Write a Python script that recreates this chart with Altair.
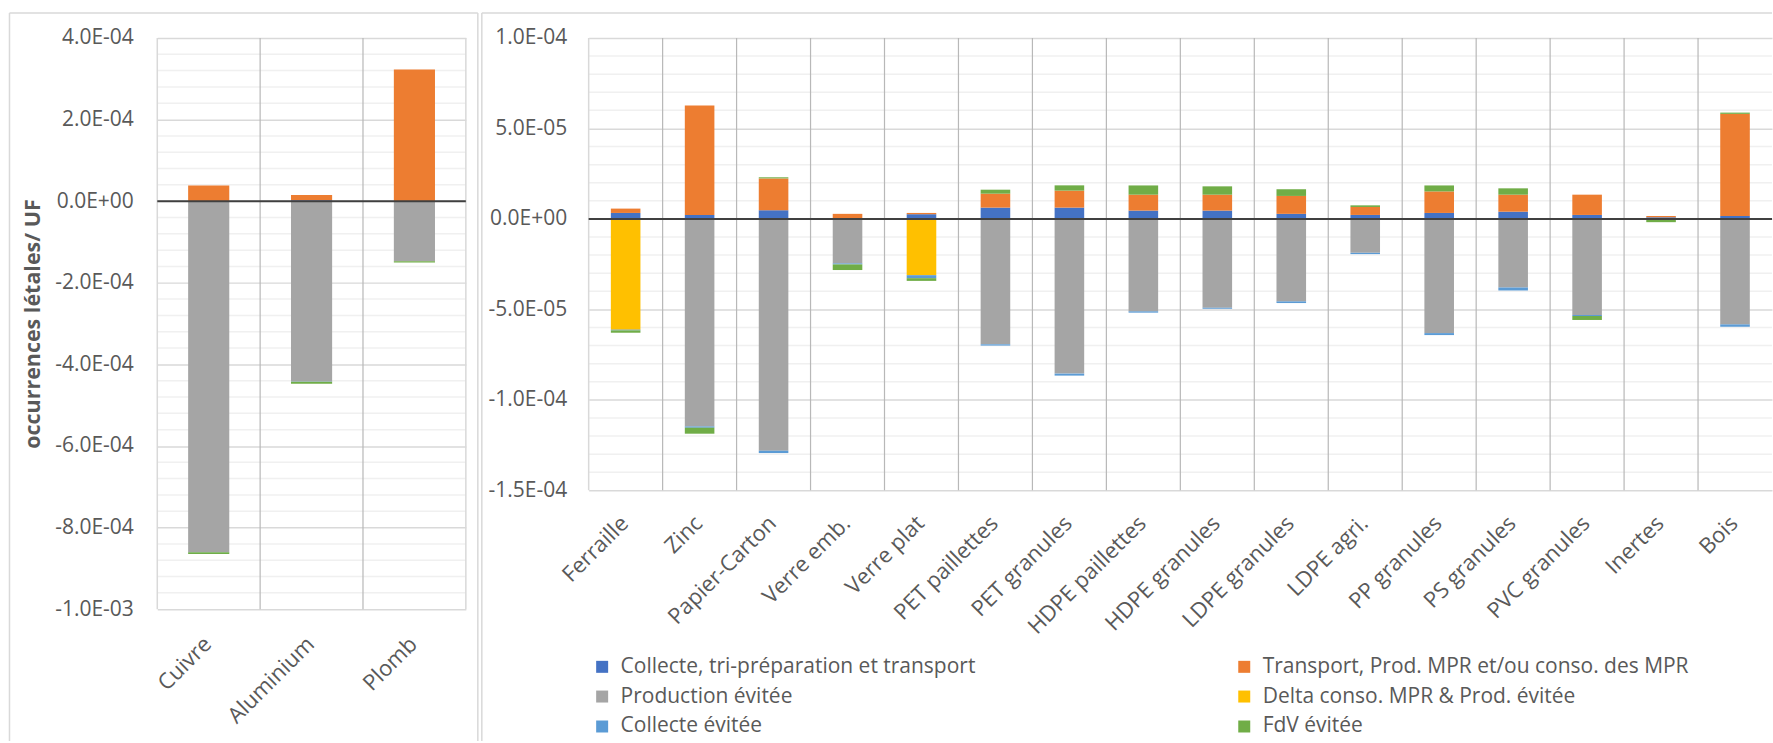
import altair as alt
import pandas as pd

FONT = "Open Sans"
TEXT = "#595959"

SERIES = [
    "Collecte, tri-préparation et transport",
    "Transport, Prod. MPR et/ou conso. des MPR",
    "Production évitée",
    "Delta conso. MPR & Prod. évitée",
    "Collecte évitée",
    "FdV évitée",
]
COLORS = ["#4472C4", "#ED7D31", "#A5A5A5", "#FFC000", "#5B9BD5", "#70AD47"]

# Metals panel (occurrences létales / UF)
metals = ["Cuivre", "Aluminium", "Plomb"]
metals_collecte = [0.5e-6, 2.0e-6, 0.5e-6]
metals_transport = [38e-6, 13e-6, 322e-6]
metals_production = [-860e-6, -442e-6, -147e-6]
metals_delta = [0.0, 0.0, 0.0]
metals_collecte_evitee = [-0.5e-6, -0.5e-6, -0.3e-6]
metals_fdv = [-4e-6, -5e-6, -3e-6]

# Other materials panel
materials = ["Ferraille", "Zinc", "Papier-Carton", "Verre emb.", "Verre plat",
             "PET paillettes", "PET granules", "HDPE paillettes", "HDPE granules",
             "LDPE granules", "LDPE agri.", "PP granules", "PS granules",
             "PVC granules", "Inertes", "Bois"]
mat_collecte = [3.3e-6, 2.2e-6, 4.8e-6, 0.3e-6, 2.6e-6, 6.25e-6, 6.25e-6, 4.6e-6,
                4.6e-6, 2.8e-6, 2.2e-6, 3.3e-6, 4.0e-6, 2.2e-6, 0.9e-6, 1.65e-6]
mat_transport = [2.4e-6, 60.5e-6, 17.6e-6, 2.5e-6, 0.7e-6, 7.7e-6, 9.4e-6, 8.8e-6,
                 8.8e-6, 9.9e-6, 4.4e-6, 11.9e-6, 9.4e-6, 11.2e-6, 0.7e-6, 56.4e-6]
mat_production = [0.0, -114.7e-6, -128.1e-6, -24.6e-6, 0.0, -69.3e-6, -85.5e-6,
                  -51.1e-6, -49.1e-6, -45.6e-6, -18.75e-6, -63.1e-6, -37.9e-6,
                  -53.1e-6, -0.5e-6, -58.3e-6]
mat_delta = [-61.2e-6, 0.0, 0.0, 0.0, -31.1e-6, 0.0, 0.0, 0.0,
             0.0, 0.0, 0.0, 0.0, 0.0, 0.0, 0.0, 0.0]
mat_collecte_evitee = [-0.4e-6, -0.7e-6, -1.3e-6, -0.55e-6, -1.65e-6, -0.7e-6, -1.1e-6,
                       -0.7e-6, -0.55e-6, -0.9e-6, -0.7e-6, -1.1e-6, -1.65e-6,
                       -0.55e-6, 0.0, -1.3e-6]
mat_fdv = [-1.3e-6, -3.3e-6, 0.6e-6, -3.1e-6, -1.5e-6, 2.2e-6, 2.9e-6, 5.1e-6,
           4.6e-6, 3.7e-6, 0.9e-6, 3.3e-6, 3.5e-6, -2.2e-6, -1.3e-6, 0.7e-6]

# Axis ticks
metals_ticks = [-1e-3, -8e-4, -6e-4, -4e-4, -2e-4, 0.0, 2e-4, 4e-4]
metals_minor = [k * 4e-5 for k in range(-25, 11) if k % 5 != 0]
mat_ticks = [-1.5e-4, -1e-4, -5e-5, 0.0, 5e-5, 1e-4]
mat_minor = [k * 1e-5 for k in range(-15, 11) if k % 5 != 0]

LABEL_EXPR = ("replace(replace(replace(format(datum.value, '.1e'), 'e-', 'E-0'),"
              " 'e+', 'E+0'), '\u2212', '-')")


def long_frame(cats, columns):
    rows = []
    for i, (name, vals) in enumerate(zip(SERIES, columns)):
        for c, v in zip(cats, vals):
            if v != 0:
                rows.append({"cat": c, "series": name, "ord": i, "value": v})
    return pd.DataFrame(rows)


def panel(cats, df, y_dom, major, minor, width, height, y_label_pad,
          x_label_pad, y_axis_extra, legend, frame_left, frame_right,
          right_edge):
    x_scale = alt.Scale(domain=cats, paddingInner=0, paddingOuter=0)
    y_scale = alt.Scale(domain=y_dom, nice=False, zero=False)
    x_axis = alt.Axis(title=None, labelAngle=-45, labelAlign="right",
                      labelBaseline="top", labelPadding=x_label_pad,
                      labelOffset=-8, ticks=False, domain=False, grid=False,
                      labelFont=FONT, labelFontSize=22, labelColor=TEXT,
                      labelLimit=400)
    y_axis = alt.Axis(values=major, labelExpr=LABEL_EXPR, grid=True,
                      gridColor="#d9d9d9", gridWidth=1.5, ticks=False,
                      domain=False, labelPadding=y_label_pad, labelFont=FONT,
                      labelFontSize=21, labelColor=TEXT, **y_axis_extra)

    minor_layer = alt.Chart(pd.DataFrame({"v": minor})).mark_rule(
        color="#f0f0f0", strokeWidth=1.5
    ).encode(y=alt.Y("v:Q", scale=y_scale, axis=y_axis))

    seps = alt.Chart(pd.DataFrame({"cat": cats[1:]})).mark_rule(
        color="#b8b8b8", strokeWidth=1.2
    ).encode(x=alt.X("cat:N", scale=x_scale, axis=x_axis, bandPosition=0))

    edge_left = alt.Chart(pd.DataFrame({"cat": cats[:1]})).mark_rule(
        color="#d9d9d9", strokeWidth=1.5
    ).encode(x=alt.X("cat:N", scale=x_scale, axis=x_axis, bandPosition=0))

    layers = [minor_layer, seps, edge_left]
    if right_edge:
        layers.append(
            alt.Chart(pd.DataFrame({"cat": cats[-1:]})).mark_rule(
                color="#d9d9d9", strokeWidth=1.5
            ).encode(x=alt.X("cat:N", scale=x_scale, axis=x_axis, bandPosition=1))
        )

    bars = alt.Chart(df).mark_bar(width=alt.RelativeBandSize(0.4)).encode(
        x=alt.X("cat:N", scale=x_scale, axis=x_axis),
        y=alt.Y("value:Q", scale=y_scale, axis=y_axis, stack="zero"),
        color=alt.Color("series:N",
                        scale=alt.Scale(domain=SERIES, range=COLORS),
                        legend=legend),
        order=alt.Order("ord:Q"),
    )

    zero = alt.Chart(pd.DataFrame({"v": [0.0]})).mark_rule(
        color="#404040", strokeWidth=2
    ).encode(y=alt.Y("v:Q", scale=y_scale, axis=y_axis))

    # panel frame (light border around each panel)
    one = alt.Chart(alt.Data(values=[{}]))
    top = -25
    bottom = 704
    frame = [
        one.mark_rule(color="#d9d9d9", strokeWidth=1.5).encode(
            x=alt.value(frame_left), x2=alt.value(frame_right), y=alt.value(top)),
        one.mark_rule(color="#d9d9d9", strokeWidth=1.5).encode(
            x=alt.value(frame_left), y=alt.value(top), y2=alt.value(bottom)),
    ]
    if right_edge:
        frame.append(one.mark_rule(color="#d9d9d9", strokeWidth=1.5).encode(
            x=alt.value(frame_right), y=alt.value(top), y2=alt.value(bottom)))

    layers += [bars, zero] + frame
    return alt.layer(*layers).properties(width=width, height=height)


metals_df = long_frame(metals, [metals_collecte, metals_transport, metals_production,
                                metals_delta, metals_collecte_evitee, metals_fdv])
mat_df = long_frame(materials, [mat_collecte, mat_transport, mat_production,
                                mat_delta, mat_collecte_evitee, mat_fdv])

left = panel(
    metals, metals_df, [-1e-3, 4e-4], metals_ticks, metals_minor,
    width=309, height=572, y_label_pad=24, x_label_pad=24,
    y_axis_extra=dict(title="occurrences létales/ UF", titleFont=FONT,
                      titleFontSize=21.5, titleFontWeight="bold",
                      titleColor=TEXT, titleX=-124, titleY=286,
                      titleAngle=270, titleAlign="center",
                      titleBaseline="middle"),
    legend=None, frame_left=-148, frame_right=321, right_edge=True,
)

legend = alt.Legend(
    title=None, orient="none", legendX=3, legendY=619, columns=2,
    direction="horizontal",
    columnPadding=258, rowPadding=8, symbolType="square", symbolSize=144,
    symbolStrokeWidth=0, labelFont=FONT, labelFontSize=21, labelColor=TEXT,
    labelOffset=8, labelLimit=700, padding=0,
)

right = panel(
    materials, mat_df, [-1.5e-4, 1e-4], mat_ticks, mat_minor,
    width=1185, height=453, y_label_pad=22, x_label_pad=22,
    y_axis_extra=dict(title=None),
    legend=legend, frame_left=-107, frame_right=1185, right_edge=False,
)

chart = alt.hconcat(left, right, spacing=2).resolve_legend(
    color="independent"
).properties(
    padding={"left": 8.5, "top": 11.5, "right": 0, "bottom": 0},
    background="white",
).configure_view(stroke=None)

chart.save("out.html", embed_options={"renderer": "svg", "actions": False})
